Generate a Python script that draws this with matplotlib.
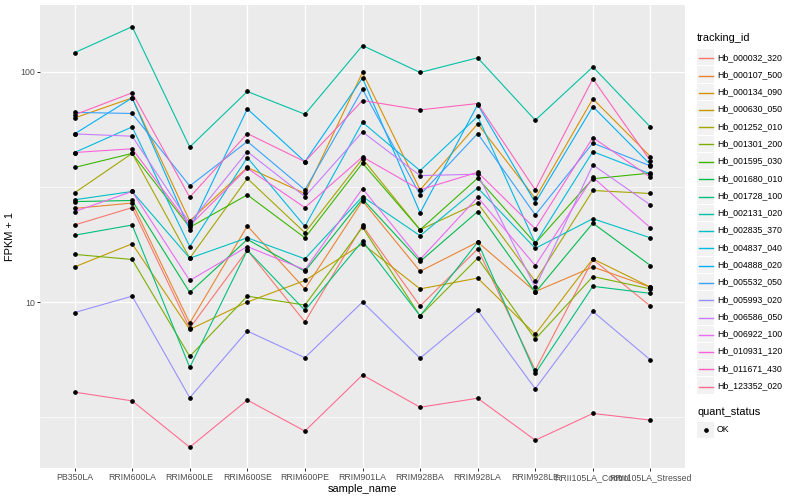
import matplotlib
matplotlib.use("Agg")
import matplotlib.pyplot as plt
from matplotlib.lines import Line2D
from matplotlib.patches import Rectangle

plt.rcParams['font.family'] = ['Liberation Sans', 'DejaVu Sans']

samples = ["PB350LA", "RRIM600LA", "RRIM600LE", "RRIM600SE", "RRIM600PE",
           "RRIM901LA", "RRIM928BA", "RRIM928LA", "RRIM928LE",
           "RRII105LA_Control", "RRII105LA_Stressed"]

tracking_ids = ["Hb_000032_320", "Hb_000107_500", "Hb_000134_090", "Hb_000630_050",
                "Hb_001252_010", "Hb_001301_200", "Hb_001595_030", "Hb_001680_010",
                "Hb_001728_100", "Hb_002131_020", "Hb_002835_370", "Hb_004837_040",
                "Hb_004888_020", "Hb_005532_050", "Hb_005993_020", "Hb_006586_050",
                "Hb_006922_100", "Hb_010931_120", "Hb_011671_430", "Hb_123352_020"]

colors = ["#F8766D", "#EA8331", "#D89000", "#C09B00", "#A3A500", "#7CAE00",
          "#39B600", "#00BB4E", "#00BF7D", "#00C1A3", "#00BFC4", "#00BAE0",
          "#00B0F6", "#35A2FF", "#9590FF", "#C77CFF", "#E76BF3", "#FA62DB",
          "#FF62BC", "#FF6C91"]

# FPKM + 1 values per tracking id, in sample order
hb_000032_320 = [21.6, 25.7, 7.7, 16.8, 8.2, 21.5, 9.6, 17.0, 5.06, 15.3, 9.6]
hb_000107_500 = [25.5, 26.9, 8.1, 21.4, 11.4, 27.5, 13.6, 18.2, 11.1, 14.2, 11.6]
hb_000134_090 = [63.0, 77.0, 22.5, 38.4, 29.6, 99.3, 30.7, 59.4, 28.2, 76.3, 42.8]
hb_000630_050 = [14.2, 17.9, 7.6, 10.0, 12.4, 17.9, 11.4, 12.7, 7.24, 15.4, 11.6]
hb_001252_010 = [29.8, 44.2, 15.5, 34.4, 20.0, 41.9, 20.6, 26.9, 12.3, 30.5, 29.6]
hb_001301_200 = [16.1, 15.3, 5.8, 10.6, 9.7, 21.1, 8.7, 15.5, 6.9, 12.9, 11.4]
hb_001595_030 = [38.4, 44.2, 21.1, 29.2, 19.0, 40.1, 20.6, 34.5, 18.0, 34.3, 36.3]
hb_001680_010 = [27.3, 27.6, 11.0, 18.7, 13.6, 28.0, 15.0, 24.7, 11.0, 22.0, 14.4]
hb_001728_100 = [19.5, 21.6, 5.2, 16.8, 9.2, 18.4, 8.7, 18.2, 4.9, 11.7, 10.9]
hb_002131_020 = [121.0, 157.0, 47.1, 82.1, 65.4, 130.0, 99.3, 115.0, 61.6, 105.0, 57.5]
hb_002835_370 = [27.8, 30.2, 15.5, 19.0, 15.4, 28.7, 19.4, 31.3, 17.1, 23.0, 19.0]
hb_004837_040 = [44.6, 57.6, 17.4, 42.4, 21.3, 60.3, 37.2, 64.0, 18.0, 45.0, 36.0]
hb_004888_020 = [53.7, 77.0, 20.6, 69.0, 40.7, 93.9, 24.4, 72.0, 27.0, 70.6, 39.5]
hb_005532_050 = [66.6, 65.9, 31.9, 49.8, 30.7, 83.8, 29.2, 53.9, 23.9, 49.0, 39.0]
hb_005993_020 = [9.0, 10.6, 3.84, 7.48, 5.73, 10.0, 5.7, 9.2, 4.2, 9.1, 5.6]
hb_006586_050 = [53.7, 52.5, 22.0, 45.0, 28.7, 54.8, 35.4, 35.9, 11.6, 39.4, 26.4]
hb_006922_100 = [24.7, 30.2, 12.4, 17.4, 13.8, 31.1, 15.3, 28.5, 14.4, 34.8, 21.0]
hb_010931_120 = [44.6, 46.3, 21.5, 38.1, 25.7, 42.7, 30.7, 36.6, 20.8, 51.8, 34.8]
hb_011671_430 = [65.0, 81.0, 28.5, 53.9, 40.7, 75.0, 68.3, 72.8, 30.7, 93.2, 41.0]
hb_123352_020 = [4.06, 3.72, 2.34, 3.75, 2.75, 4.82, 3.49, 3.82, 2.51, 3.28, 3.07]

series = [hb_000032_320, hb_000107_500, hb_000134_090, hb_000630_050, hb_001252_010,
          hb_001301_200, hb_001595_030, hb_001680_010, hb_001728_100, hb_002131_020,
          hb_002835_370, hb_004837_040, hb_004888_020, hb_005532_050, hb_005993_020,
          hb_006586_050, hb_006922_100, hb_010931_120, hb_011671_430, hb_123352_020]

W, H = 800, 500
fig = plt.figure(figsize=(W / 72, H / 72), dpi=72)
fig.patch.set_facecolor("white")
ax = fig.add_axes([40 / W, 1 - 468 / H, (685 - 40) / W, (468 - 5) / H])
ax.set_facecolor("#EBEBEB")

x = list(range(len(samples)))
for vals, col in zip(series, colors):
    ax.plot(x, vals, color=col, lw=1.1, zorder=3, solid_capstyle="butt")
for vals in series:
    ax.plot(x, vals, ls="none", marker="o", ms=3.6, color="black", zorder=4)

ax.set_yscale("log")
ax.set_ylim(10 ** 0.279, 10 ** 2.29)
ax.set_xlim(-0.6, len(samples) - 1 + 0.6)
ax.set_yticks([10, 100])
ax.set_yticklabels(["10", "100"])
ax.set_yticks([10 ** 0.5, 10 ** 1.5], minor=True)
ax.yaxis.set_minor_formatter(matplotlib.ticker.NullFormatter())
ax.set_xticks(x)
ax.set_xticklabels(samples)

ax.grid(True, which="major", color="white", lw=1.3, zorder=1)
ax.grid(True, which="minor", axis="y", color="white", lw=0.65, zorder=1)
ax.set_axisbelow(True)
for s in ax.spines.values():
    s.set_visible(False)
ax.tick_params(axis="both", which="major", length=2.75, width=1.0, color="#333333",
               labelsize=8.8, labelcolor="#4D4D4D", pad=2)
ax.tick_params(axis="y", which="minor", length=0)

ax.set_xlabel("sample_name", fontsize=11, labelpad=2)
ax.set_ylabel("FPKM + 1", fontsize=11, labelpad=5)

# Legend (ggplot style)
def fx(px):
    return px / W

def fy(py):
    return 1 - py / H

fig.text(fx(697), fy(38), "tracking_id", fontsize=11, va="center", ha="left")
key = 17.28
y0 = 57.3
for i, (tid, col) in enumerate(zip(tracking_ids, colors)):
    yc = y0 + i * key
    fig.add_artist(Rectangle((fx(697), fy(yc + key / 2 - 0.5)), key / W, (key - 1) / H,
                             facecolor="#F2F2F2", edgecolor="none",
                             transform=fig.transFigure, zorder=1))
    yl = round(yc) + 0.5
    fig.add_artist(Line2D([fx(698.5), fx(712.5)], [fy(yl), fy(yl)], color=col, lw=1.4,
                          transform=fig.transFigure, zorder=5))
    fig.text(fx(717), fy(yc), tid, fontsize=8.8, va="center", ha="left")

fig.text(fx(697), fy(412), "quant_status", fontsize=11, va="center", ha="left")
yc = 430
fig.add_artist(Rectangle((fx(697), fy(yc + key / 2 - 0.5)), key / W, (key - 1) / H,
                         facecolor="#F2F2F2", edgecolor="none", transform=fig.transFigure,
                         zorder=1))
fig.add_artist(Line2D([fx(705.6)], [fy(yc)], marker="o", ms=3.6, color="black",
                      ls="none", transform=fig.transFigure, zorder=5))
fig.text(fx(717), fy(yc), "OK", fontsize=8.8, va="center", ha="left")

fig.savefig("out.png", dpi=72)
